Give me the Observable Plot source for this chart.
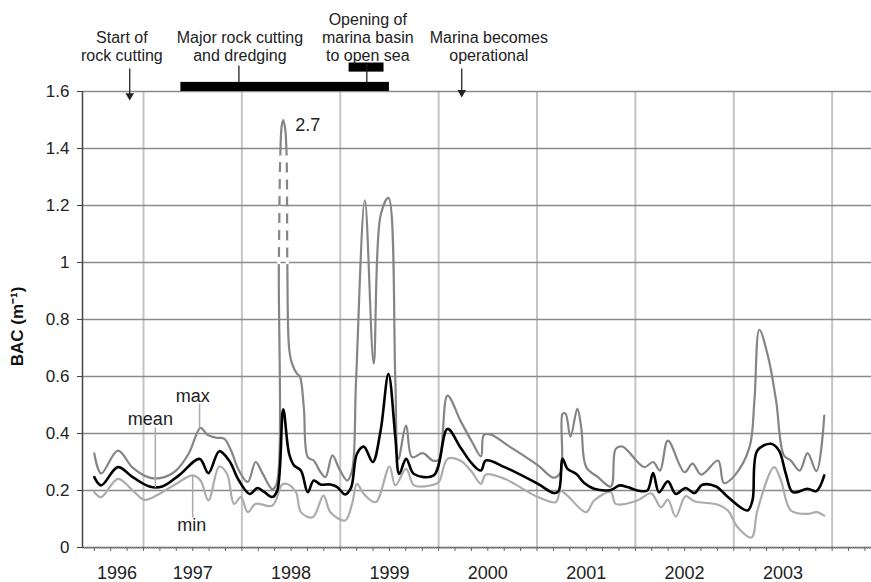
<!DOCTYPE html>
<html><head><meta charset="utf-8">
<script src="https://cdn.jsdelivr.net/npm/d3@7"></script>
<script src="https://cdn.jsdelivr.net/npm/@observablehq/plot@0.6"></script>
<style>html,body{margin:0;padding:0;background:#fff;overflow:hidden}</style>
</head><body><div id="chart"></div>
<script>
// ---- data (decimal year, BAC m^-1) ----
const maxSeries = [[1996.50,0.33],[1996.57,0.26],[1996.74,0.34],[1996.89,0.28],[1997.06,0.245],[1997.19,0.245],[1997.33,0.27],[1997.46,0.33],[1997.58,0.42],[1997.65,0.395],[1997.74,0.385],[1997.82,0.382],[1997.89,0.34],[1997.97,0.27],[1998.06,0.23],[1998.14,0.30],[1998.21,0.26],[1998.31,0.205],[1998.35,0.22],[1998.376,1.0],[1998.39,1.37],[1998.405,1.48],[1998.42,1.50],[1998.44,1.47],[1998.455,1.37],[1998.462,1.0],[1998.48,0.70],[1998.51,0.645],[1998.56,0.61],[1998.59,0.60],[1998.63,0.49],[1998.67,0.317],[1998.73,0.305],[1998.80,0.264],[1998.85,0.247],[1998.92,0.323],[1998.99,0.276],[1999.07,0.235],[1999.12,0.27],[1999.16,0.58],[1999.25,1.218],[1999.34,0.645],[1999.41,1.165],[1999.49,1.227],[1999.56,0.586],[1999.59,0.31],[1999.67,0.428],[1999.73,0.317],[1999.84,0.331],[1999.94,0.305],[2000.00,0.308],[2000.09,0.533],[2000.22,0.446],[2000.34,0.37],[2000.43,0.32],[2000.46,0.395],[2000.53,0.396],[2000.73,0.352],[2001.01,0.288],[2001.17,0.245],[2001.24,0.264],[2001.26,0.469],[2001.29,0.47],[2001.34,0.389],[2001.41,0.487],[2001.45,0.42],[2001.50,0.282],[2001.62,0.247],[2001.75,0.214],[2001.80,0.346],[2001.87,0.354],[2002.09,0.282],[2002.18,0.30],[2002.25,0.27],[2002.33,0.375],[2002.50,0.264],[2002.58,0.294],[2002.67,0.256],[2002.84,0.305],[2002.90,0.226],[2003.01,0.253],[2003.16,0.352],[2003.21,0.516],[2003.26,0.764],[2003.35,0.668],[2003.43,0.516],[2003.51,0.323],[2003.58,0.305],[2003.67,0.27],[2003.75,0.331],[2003.84,0.268],[2003.92,0.463]];

const meanSeries = [[1996.50,0.247],[1996.57,0.218],[1996.74,0.282],[1996.89,0.247],[1997.06,0.214],[1997.19,0.214],[1997.36,0.253],[1997.57,0.311],[1997.66,0.261],[1997.77,0.338],[1997.87,0.305],[1997.97,0.235],[1998.08,0.188],[1998.16,0.209],[1998.23,0.194],[1998.31,0.177],[1998.36,0.20],[1998.42,0.485],[1998.48,0.329],[1998.53,0.288],[1998.60,0.27],[1998.67,0.194],[1998.73,0.235],[1998.80,0.221],[1998.90,0.221],[1998.97,0.212],[1999.05,0.186],[1999.11,0.21],[1999.17,0.329],[1999.24,0.354],[1999.33,0.30],[1999.41,0.41],[1999.49,0.609],[1999.56,0.387],[1999.60,0.258],[1999.67,0.311],[1999.75,0.258],[1999.95,0.253],[2000.09,0.416],[2000.22,0.352],[2000.34,0.294],[2000.43,0.27],[2000.48,0.305],[2000.67,0.282],[2001.01,0.223],[2001.17,0.191],[2001.22,0.198],[2001.26,0.311],[2001.31,0.276],[2001.40,0.258],[2001.48,0.226],[2001.58,0.206],[2001.75,0.202],[2001.84,0.218],[2001.92,0.212],[2002.02,0.20],[2002.12,0.20],[2002.18,0.261],[2002.24,0.194],[2002.33,0.232],[2002.41,0.188],[2002.51,0.209],[2002.60,0.191],[2002.68,0.22],[2002.82,0.214],[2002.94,0.177],[2003.14,0.13],[2003.19,0.165],[2003.24,0.34],[2003.38,0.364],[2003.46,0.34],[2003.53,0.258],[2003.60,0.194],[2003.75,0.206],[2003.84,0.198],[2003.92,0.253]];

const minSeries = [[1996.50,0.194],[1996.57,0.177],[1996.74,0.241],[1996.89,0.20],[1997.01,0.167],[1997.16,0.188],[1997.33,0.223],[1997.50,0.253],[1997.58,0.235],[1997.66,0.165],[1997.77,0.284],[1997.85,0.258],[1997.92,0.153],[1997.99,0.177],[1998.06,0.124],[1998.14,0.153],[1998.31,0.147],[1998.41,0.221],[1998.46,0.223],[1998.55,0.194],[1998.60,0.124],[1998.72,0.106],[1998.83,0.182],[1998.90,0.124],[1999.05,0.095],[1999.12,0.153],[1999.17,0.223],[1999.24,0.188],[1999.36,0.159],[1999.50,0.284],[1999.56,0.218],[1999.67,0.276],[1999.75,0.218],[1999.92,0.218],[2000.00,0.229],[2000.09,0.311],[2000.22,0.305],[2000.34,0.264],[2000.43,0.223],[2000.48,0.256],[2000.67,0.241],[2001.01,0.177],[2001.19,0.159],[2001.24,0.198],[2001.30,0.185],[2001.50,0.124],[2001.58,0.165],[2001.75,0.194],[2001.80,0.153],[2002.02,0.165],[2002.16,0.19],[2002.26,0.141],[2002.33,0.168],[2002.41,0.108],[2002.51,0.18],[2002.60,0.162],[2002.84,0.15],[2002.94,0.13],[2003.04,0.071],[2003.18,0.035],[2003.24,0.13],[2003.41,0.282],[2003.48,0.235],[2003.58,0.13],[2003.75,0.118],[2003.84,0.124],[2003.92,0.112]];

// broken-scale spike (true value 2.7) shown dashed between these values
const spikeDashed = [{leg:1,x:1998.376,y:1.0},{leg:1,x:1998.39,y:1.37},{leg:2,x:1998.455,y:1.37},{leg:2,x:1998.462,y:1.0}];
const spikeLabel = [{x:1998.67, y:1.48, text:"2.7"}];

const yearLabels = ["1996","1997","1998","1999","2000","2001","2002","2003"];
const yearLabelX = [1996.73,1997.5,1998.5,1999.5,2000.5,2001.5,2002.5,2003.5];
const yearGrid = [1997,1998,1999,2000,2001,2002,2003,2004];
const yTicks = [0,0.2,0.4,0.6,0.8,1,1.2,1.4,1.6];

const events = [
  {x:1996.78, label:"Start of\nrock cutting"},
  {x:1997.98, label:"Major rock cutting\nand dredging"},
  {x:1999.28, label:"Opening of\nmarina basin\nto open sea"},
  {x:2000.51, label:"Marina becomes\noperational"}
];
const eventArrows = [{x:1996.86, y1:1.681, y2:1.575},{x:2000.235, y1:1.681, y2:1.586}];
const eventLinks = [{x:1997.97, y1:1.691, y2:1.632},{x:1999.27, y1:1.698, y2:1.632}];
const periods = [{x1:1997.38, x2:1999.50, y1:1.6, y2:1.632},{x1:1999.09, x2:1999.445, y1:1.668, y2:1.70}];

const seriesLabels = [
  {text:"max", x:1997.50, y:0.53, lx:1997.57, ly1:0.505, ly2:0.418},
  {text:"mean", x:1997.07, y:0.449, lx:1997.12, ly1:0.421, ly2:0.211},
  {text:"min", x:1997.49, y:0.077, lx:1997.50, ly1:0.253, ly2:0.105}
];

const xDomain = [1996.38, 2004.4];
const weekTicks = d3.range(1996.4, 2004.4, 1/52);
const bimonthTicks = d3.range(1996.5, 2004.4, 1/6);

const toObj = a => a.map(([x,y]) => ({x,y}));
const curve = "catmull-rom";

const chart = Plot.plot({
  width: 871, height: 582,
  marginLeft: 82, marginRight: 0, marginTop: 91, marginBottom: 35,
  style: {fontFamily: "'Liberation Sans', Arial, sans-serif", fontSize: "16px", background: "#fff", color: "#222"},
  x: {domain: xDomain, label: null},
  y: {domain: [0, 1.6], label: null},
  marks: [
    Plot.ruleX(yearGrid, {y1: 0, y2: 1.6, stroke: "#c4c4c4", strokeWidth: 2}),
    Plot.ruleY(yTicks.filter(d => d > 0), {stroke: "#8a8a8a", strokeWidth: 1.6}),
    Plot.line(toObj(minSeries), {x: "x", y: "y", curve, stroke: "#acacac", strokeWidth: 2.2}),
    Plot.line(toObj(maxSeries), {x: "x", y: "y", curve, stroke: "#858585", strokeWidth: 2.2}),
    Plot.line(spikeDashed, {x: "x", y: "y", z: "leg", stroke: "#fff", strokeWidth: 3.5, strokeDasharray: "4,13"}),
    Plot.line(toObj(meanSeries), {x: "x", y: "y", curve, stroke: "#000", strokeWidth: 2.6}),
    Plot.ruleX([xDomain[0]], {y1: 0, y2: 1.6, stroke: "#444", strokeWidth: 1.5}),
    Plot.ruleY([0], {stroke: "#555", strokeWidth: 1.5}),
    Plot.axisX({ticks: weekTicks, tickSize: 2, tickFormat: () => "", stroke: "#999", label: null}),
    Plot.axisX({ticks: bimonthTicks, tickSize: 4, tickFormat: () => "", stroke: "#666", label: null}),
    Plot.axisY({ticks: yTicks, tickSize: 5, tickPadding: 8, fontSize: 17, tickFormat: d3.format("~g"), stroke: "#444", label: null}),
    Plot.text(yearLabels, {x: (d, i) => yearLabelX[i], text: d => d, frameAnchor: "bottom", dy: 26, lineAnchor: "middle", fontSize: 18, fill: "#222"}),
    Plot.text(["BAC (m\u207B\u00B9)"], {frameAnchor: "left", dx: -65, dy: 7, rotate: -90, textAnchor: "middle", fontSize: 17, fontWeight: "bold", fill: "#111"}),
    Plot.rect(periods, {x1: "x1", x2: "x2", y1: "y1", y2: "y2", fill: "#000"}),
    Plot.link(eventLinks, {x1: "x", x2: "x", y1: "y1", y2: "y2", stroke: "#222", strokeWidth: 1.3}),
    Plot.link(eventArrows, {x1: "x", x2: "x", y1: "y1", y2: "y2", stroke: "#222", strokeWidth: 1.3}),
    Plot.dot(eventArrows, {x: "x", y: "y2", symbol: "triangle", rotate: 180, r: 3.2, dy: -3, fill: "#222", stroke: null}),
    Plot.text(events, {x: "x", text: "label", frameAnchor: "top", dy: -31, lineAnchor: "bottom", lineHeight: 1.12, fontSize: 16, fill: "#222"}),
    Plot.text(spikeLabel, {x: "x", y: "y", text: "text", fontSize: 18, fill: "#222"}),
    Plot.link(seriesLabels, {x1: "lx", x2: "lx", y1: "ly1", y2: "ly2", stroke: "#aaa", strokeWidth: 1.5}),
    Plot.text(seriesLabels, {x: "x", y: "y", text: "text", fontSize: 18, fill: "#222"})
  ]
});
document.getElementById("chart").appendChild(chart);
</script>
</body></html>
